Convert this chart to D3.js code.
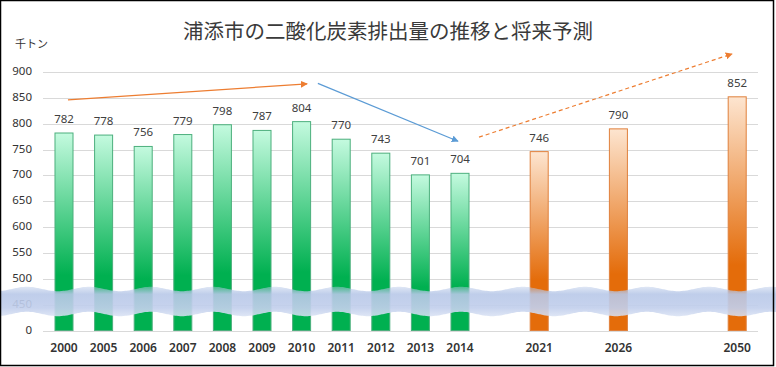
<!DOCTYPE html>
<html>
<head>
<meta charset="utf-8">
<script src="https://cdn.jsdelivr.net/npm/d3@7"></script>
<style>
body{margin:0;background:#fff;}
svg{display:block;}
</style>
</head>
<body>
<svg id="svg" width="776" height="367"></svg>
<script>
var categories = ["2000","2005","2006","2007","2008","2009","2010","2011","2012","2013","2014","gap1","2021","gap2","2026","gap3","gap4","2050"];
var actualValues = [782,778,756,779,798,787,804,770,743,701,704,null,null,null,null,null,null,null];
var forecastValues = [null,null,null,null,null,null,null,null,null,null,null,null,746,null,790,null,null,852];
var yTicks = [400,450,500,550,600,650,700,750,800,850,900];
var yTickLabels = ["0","450","500","550","600","650","700","750","800","850","900"];
var title = "浦添市の二酸化炭素排出量の推移と将来予測";
var unit = "千トン";
// arrows: [slot index, value] -> [slot index, value]
var arrowFrom = [[0.1,846],[6.41,878],[10.48,774]];
var arrowTo = [[6.14,877],[9.95,766],[16.87,935]];

var svg = d3.select("#svg");
var W = 776, H = 367;
var plotLeft = 44.2, plotRight = 757, plotTop = 72, plotBottom = 330.5;
var font = "'Noto Sans', 'Noto Sans CJK JP', sans-serif";

var x = d3.scaleBand().domain(categories).range([plotLeft, plotRight]).paddingInner(0.545).paddingOuter(0.2725);
var y = d3.scaleLinear().domain([400, 900]).range([plotBottom, plotTop]);
var step = x.step();
function xAt(i){ return plotLeft + step * (i + 0.5); }

var defs = svg.append("defs");
var g1 = defs.append("linearGradient").attr("id","gGreen").attr("x1",0).attr("y1",0).attr("x2",0).attr("y2",1);
g1.append("stop").attr("offset","0%").attr("stop-color","#c4fadf");
g1.append("stop").attr("offset","72%").attr("stop-color","#00b050");
g1.append("stop").attr("offset","100%").attr("stop-color","#00b050");
var g2 = defs.append("linearGradient").attr("id","gOrange").attr("x1",0).attr("y1",0).attr("x2",0).attr("y2",1);
g2.append("stop").attr("offset","0%").attr("stop-color","#fde5d0");
g2.append("stop").attr("offset","72%").attr("stop-color","#e46c0a");
g2.append("stop").attr("offset","100%").attr("stop-color","#e46c0a");
var g3 = defs.append("linearGradient").attr("id","gBand").attr("gradientUnits","userSpaceOnUse").attr("x1",0).attr("y1",284).attr("x2",0).attr("y2",318);
g3.append("stop").attr("offset","0%").attr("stop-color","#b4c6e7").attr("stop-opacity",0.25);
g3.append("stop").attr("offset","30%").attr("stop-color","#b8c8e8").attr("stop-opacity",0.9);
g3.append("stop").attr("offset","70%").attr("stop-color","#c2cfec").attr("stop-opacity",0.92);
g3.append("stop").attr("offset","100%").attr("stop-color","#dde5f5").attr("stop-opacity",0.85);

function marker(id, color){
	defs.append("marker").attr("id", id).attr("viewBox","0 0 10 10").attr("refX",9).attr("refY",5)
		.attr("markerWidth",7).attr("markerHeight",7).attr("markerUnits","userSpaceOnUse").attr("orient","auto")
		.append("path").attr("d","M0,0L10,5L0,10Z").attr("fill", color);
}
marker("mOrange","#ed7d31");
marker("mBlue","#5b9bd5");

// title + unit
svg.append("text").attr("x",388).attr("y",33).attr("text-anchor","middle").attr("dominant-baseline","middle")
	.style("font-family","'Noto Sans CJK JP', sans-serif").style("font-size","20.5px").style("font-weight",400)
	.attr("fill","#3a3a3a").text(title);
svg.append("text").attr("x",15).attr("y",45).attr("dominant-baseline","middle")
	.style("font-family","'Noto Sans CJK JP', sans-serif").style("font-size","11px").attr("fill","#333333").text(unit);

// grid
svg.append("g").selectAll("line").data(yTicks).enter().append("line")
	.attr("x1",43).attr("x2",758).attr("y1",function(d){return Math.round(y(d))+0.5;}).attr("y2",function(d){return Math.round(y(d))+0.5;})
	.attr("stroke","#d9d9d9").attr("stroke-width",1);

// y labels
svg.append("g").selectAll("text").data(yTicks).enter().append("text")
	.attr("x",32).attr("y",function(d){return y(d);}).attr("text-anchor","end").attr("dominant-baseline","middle")
	.style("font-family",font).style("font-size","11.5px").attr("fill","#333333")
	.text(function(d,i){return yTickLabels[i];});

// bars
function drawBars(values, fill, stroke){
	var data = categories.map(function(c,i){return {c:c, v:values[i]};}).filter(function(d){return d.v !== null;});
	svg.append("g").selectAll("rect").data(data).enter().append("rect")
		.attr("x",function(d){return x(d.c);}).attr("y",function(d){return y(d.v);})
		.attr("width",x.bandwidth()).attr("height",function(d){return y(400) - y(d.v);})
		.attr("fill",fill).attr("stroke",stroke).attr("stroke-width",1);
	svg.append("g").selectAll("text").data(data).enter().append("text")
		.attr("x",function(d){return x(d.c) + x.bandwidth()/2;}).attr("y",function(d){return y(d.v) - 10;})
		.attr("text-anchor","middle").style("font-family",font).style("font-size","11.5px").attr("fill","#404040")
		.text(function(d){return d.v;});
}
drawBars(actualValues, "url(#gGreen)", "#4caf7d");
drawBars(forecastValues, "url(#gOrange)", "#e0803c");

// x labels
svg.append("g").selectAll("text").data(categories.filter(function(c){return c.indexOf("gap") !== 0;})).enter().append("text")
	.attr("x",function(d){return x(d) + x.bandwidth()/2;}).attr("y",349).attr("text-anchor","middle").attr("dominant-baseline","middle")
	.style("font-family",font).style("font-size","12px").style("font-weight",600).attr("fill","#333333")
	.text(function(d){return d;});

// wavy break band
var topPts = [], botPts = [];
for(var px = 0; px <= W; px += 2){
	var off = -2.2 * Math.cos(2 * Math.PI * (px - 27) / 62);
	topPts.push([px, 289 + off]);
	botPts.push([px, 314 + off]);
}
var bandPath = d3.line().curve(d3.curveBasis)(topPts) + "L" + d3.line().curve(d3.curveBasis)(botPts.reverse()).slice(1) + "Z";
svg.append("path").attr("d",bandPath).attr("fill","url(#gBand)");

// arrows
var arrowStyles = [
	{c:"#ed7d31", m:"mOrange", dash:null},
	{c:"#5b9bd5", m:"mBlue", dash:null},
	{c:"#ed7d31", m:"mOrange", dash:"4,3"}
];
for(var i = 0; i < arrowFrom.length; i++){
	svg.append("line")
		.attr("x1",xAt(arrowFrom[i][0])).attr("y1",y(arrowFrom[i][1]))
		.attr("x2",xAt(arrowTo[i][0])).attr("y2",y(arrowTo[i][1]))
		.attr("stroke",arrowStyles[i].c).attr("stroke-width",1.2)
		.attr("stroke-dasharray",arrowStyles[i].dash)
		.attr("marker-end","url(#" + arrowStyles[i].m + ")");
}

// frame
svg.append("rect").attr("x",0.5).attr("y",0.5).attr("width",773).attr("height",365)
	.attr("fill","none").attr("stroke","#000").attr("stroke-width",1.5);
</script>
</body>
</html>
